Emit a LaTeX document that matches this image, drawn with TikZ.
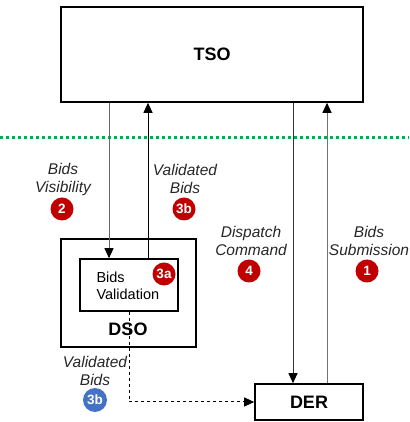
\documentclass[tikz,border=0pt]{standalone}
\usepackage{fontspec}
\setmainfont{Liberation Sans}
\usetikzlibrary{arrows.meta,positioning}
\definecolor{badgered}{RGB}{192,0,0}
\definecolor{badgeblue}{RGB}{68,114,196}
\definecolor{gridgreen}{RGB}{0,176,80}

\begin{document}
\begin{tikzpicture}[
    x=1pt, y=1pt,
    >={Triangle[length=10pt,width=9pt,color=black]},
    box/.style={draw, line width=1.6pt, inner sep=0pt},
    title/.style={font=\fontsize{18}{21}\selectfont\bfseries},
    flowlabel/.style={align=center, font=\fontsize{15.5}{18}\selectfont\itshape, text=black!85},
    badge/.style={circle, fill=badgered, text=white, minimum size=23pt, inner sep=0pt, font=\fontsize{13.5}{13.5}\selectfont\bfseries},
    link/.style={line width=1pt}
]
\useasboundingbox (0,0) rectangle (409,422);

% Boxes
\node[box, minimum width=302pt, minimum height=95pt] (tso) at (212,367.5) {};
\node[title] at (tso.center) {TSO};
\node[box, minimum width=135pt, minimum height=108pt] (dso) at (128.5,129) {};
\node[box, minimum width=98pt, minimum height=52pt] (val) at (129,137) {};
\node[anchor=west, align=left, font=\fontsize{14.5}{17}\selectfont] (valtext) at (93,136.5) {Bids\\Validation};
\node[title] (dsotext) at (128,93) {DSO};
\node[box, minimum width=108pt, minimum height=36pt] (der) at (309,20) {};
\node[title] at (der.center) {DER};

% Boundary
\draw[gridgreen, line width=3pt, dash pattern=on 3pt off 3pt] (0,284) -- (409,284);

% Connectors
\coordinate (xa) at (109,0);
\coordinate (xb) at (148,0);
\coordinate (xc) at (293,0);
\coordinate (xd) at (327,0);
\draw[link, ->, black!60] (tso.south -| xa) -- (val.north -| xa);
\draw[link, ->] (val.north -| xb) -- (tso.south -| xb);
\draw[link, ->, black!80] (tso.south -| xc) -- (der.north -| xc);
\draw[link, ->, black!55] (der.north -| xd) -- (tso.south -| xd);
\draw[link, dashed, ->] (val.south) |- (der.west);

% Labels
\node[flowlabel] (lvis) at (63,243) {Bids\\Visibility};
\node[badge] (b2) at (62,213) {2};
\node[flowlabel] (lvalup) at (185,243) {Validated\\Bids};
\node[badge] (b3b) at (184,213) {3b};
\node[flowlabel] (ldisp) at (251,181) {Dispatch\\Command};
\node[badge] (b4) at (249,151) {4};
\node[flowlabel] (lsub) at (369,181) {Bids\\Submission};
\node[badge] (b1) at (367,151) {1};
\node[badge] (b3a) at (164,148) {3a};
\node[flowlabel] (lvaldown) at (95,51) {Validated\\Bids};
\node[badge, fill=badgeblue, minimum size=24pt] (b3bblue) at (95,22) {3b};

\end{tikzpicture}
\end{document}
